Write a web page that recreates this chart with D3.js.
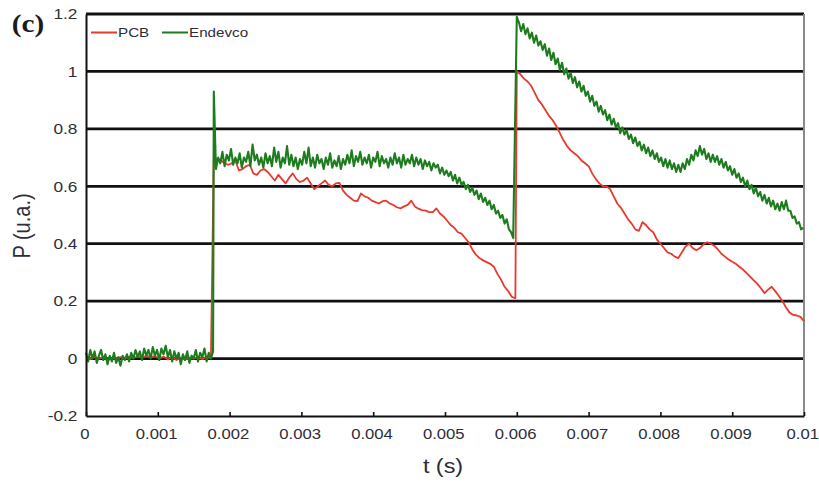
<!DOCTYPE html>
<html>
<head>
<meta charset="utf-8">
<script src="https://cdn.jsdelivr.net/npm/d3@7"></script>
<style>
  html, body { margin: 0; padding: 0; background: #fff; }
  svg { display: block; }
</style>
</head>
<body>
<svg id="chart" width="819" height="483"></svg>
<script>
// ---- axis ticks ----
const xTicks = [0, 0.001, 0.002, 0.003, 0.004, 0.005, 0.006, 0.007, 0.008, 0.009, 0.01];
const xTickLabels = ["0", "0.001", "0.002", "0.003", "0.004", "0.005", "0.006", "0.007", "0.008", "0.009", "0.01"];
const yTicks = [-0.2, 0, 0.2, 0.4, 0.6, 0.8, 1, 1.2];
const yTickLabels = ["-0.2", "0", "0.2", "0.4", "0.6", "0.8", "1", "1.2"];
const gridValues = [0, 0.2, 0.4, 0.6, 0.8, 1, 1.2];

const seriesNames = ["PCB", "Endevco"];
const seriesColors = ["#e8392f", "#1d7c1d"];

// ---- PCB sensor: three recorded segments (start time, sample step, values) ----
const pcbStart = [0, 0.00178, 0.006];
const pcbStep = [0.00006, 0.00005, 0.00005];
const pcbBefore = [0.005, -0.002, 0.006, 0.0, 0.004, -0.004, 0.003, -0.002, 0.005, 0.0,
  0.006, 0.002, 0.008, 0.003, 0.01, 0.004, 0.009, 0.0, 0.007, -0.003,
  0.004, -0.005, 0.002, -0.004, 0.003, 0.0, 0.005, -0.002, 0.004, 0.002];
const pcbFirst = [0.70, 0.695, 0.69, 0.68, 0.675, 0.68, 0.69, 0.655, 0.66, 0.67,
  0.675, 0.645, 0.64, 0.655, 0.66, 0.65, 0.635, 0.62, 0.64, 0.625,
  0.61, 0.63, 0.645, 0.625, 0.615, 0.62, 0.63, 0.61, 0.59, 0.60,
  0.61, 0.62, 0.605, 0.60, 0.61, 0.612, 0.585, 0.57, 0.56, 0.55,
  0.548, 0.575, 0.565, 0.56, 0.55, 0.545, 0.54, 0.548, 0.55, 0.54,
  0.535, 0.527, 0.523, 0.53, 0.535, 0.55, 0.53, 0.522, 0.517, 0.515,
  0.51, 0.51, 0.523, 0.505, 0.495, 0.48, 0.465, 0.455, 0.44, 0.435,
  0.42, 0.405, 0.38, 0.362, 0.35, 0.342, 0.336, 0.33, 0.32, 0.295,
  0.275, 0.25, 0.235, 0.215, 0.21];
const pcbSecond = [1.0, 0.99, 0.975, 0.965, 0.95, 0.925, 0.90, 0.885, 0.865, 0.845,
  0.83, 0.81, 0.785, 0.76, 0.74, 0.725, 0.715, 0.705, 0.69, 0.68,
  0.67, 0.645, 0.625, 0.61, 0.60, 0.60, 0.59, 0.565, 0.54, 0.525,
  0.505, 0.485, 0.47, 0.45, 0.445, 0.475, 0.465, 0.45, 0.44, 0.415,
  0.40, 0.385, 0.37, 0.365, 0.355, 0.35, 0.37, 0.39, 0.40, 0.385,
  0.377, 0.385, 0.398, 0.405, 0.40, 0.393, 0.38, 0.365, 0.355, 0.345,
  0.337, 0.33, 0.32, 0.31, 0.298, 0.285, 0.272, 0.26, 0.245, 0.228,
  0.24, 0.25, 0.235, 0.218, 0.20, 0.178, 0.16, 0.152, 0.15, 0.145,
  0.13];

// ---- Endevco sensor: three recorded segments ----
const endStart = [0, 0.00178, 0.006];
const endStep = [0.00003, 0.00003, 0.00003];
const endBefore = [0.02, -0.01, 0.03, 0.0, 0.025, -0.015, 0.01, 0.03, -0.005, 0.015,
  -0.02, 0.01, -0.01, 0.02, -0.015, 0.005, -0.025, 0.01, -0.005, 0.015,
  -0.01, 0.02, 0.0, 0.03, 0.005, 0.025, -0.005, 0.035, 0.01, 0.03,
  0.0, 0.04, 0.01, 0.03, -0.005, 0.035, 0.015, 0.045, 0.005, 0.03,
  -0.01, 0.025, 0.0, 0.02, -0.02, 0.015, -0.005, 0.025, -0.015, 0.01,
  0.0, 0.03, -0.01, 0.02, 0.005, 0.035, -0.01, 0.02, 0.0, 0.025];
const endFirst = [0.93,
  0.66, 0.70, 0.68, 0.72, 0.67, 0.71, 0.69, 0.73, 0.675, 0.70,
  0.68, 0.715, 0.665, 0.70, 0.685, 0.72, 0.67, 0.745, 0.69, 0.71,
  0.675, 0.70, 0.665, 0.715, 0.68, 0.705, 0.67, 0.735, 0.685, 0.72,
  0.665, 0.70, 0.68, 0.74, 0.675, 0.71, 0.67, 0.70, 0.66, 0.695,
  0.675, 0.72, 0.68, 0.735, 0.67, 0.70, 0.665, 0.71, 0.68, 0.695,
  0.66, 0.70, 0.675, 0.715, 0.665, 0.69, 0.67, 0.705, 0.66, 0.695,
  0.675, 0.71, 0.68, 0.725, 0.67, 0.705, 0.685, 0.72, 0.675, 0.70,
  0.68, 0.71, 0.665, 0.70, 0.685, 0.72, 0.67, 0.705, 0.68, 0.695,
  0.665, 0.70, 0.675, 0.715, 0.68, 0.70, 0.665, 0.71, 0.675, 0.695,
  0.68, 0.71, 0.67, 0.70, 0.675, 0.695, 0.66, 0.69, 0.67, 0.685,
  0.655, 0.68, 0.665, 0.675, 0.645, 0.665, 0.64, 0.655,
  0.635, 0.65, 0.62, 0.64, 0.61, 0.63, 0.605, 0.615, 0.59, 0.605,
  0.58, 0.595, 0.57, 0.585, 0.555, 0.575, 0.545, 0.56, 0.535, 0.55,
  0.52, 0.535, 0.505, 0.515, 0.49, 0.50, 0.47, 0.485, 0.45, 0.44, 0.42];
const endSecond = [1.19,
  1.17, 1.14, 1.165, 1.13, 1.15, 1.115, 1.135, 1.10, 1.125, 1.09,
  1.105, 1.075, 1.095, 1.055, 1.08, 1.04, 1.065, 1.025, 1.045, 1.005,
  1.03, 0.99, 1.01, 0.975, 0.995, 0.96, 0.98, 0.945, 0.965, 0.93,
  0.95, 0.915, 0.93, 0.895, 0.915, 0.88, 0.895, 0.86, 0.88, 0.85,
  0.865, 0.83, 0.85, 0.815, 0.835, 0.805, 0.82, 0.785, 0.805, 0.78,
  0.795, 0.765, 0.78, 0.75, 0.77, 0.74, 0.755, 0.725, 0.745, 0.715,
  0.735, 0.705, 0.725, 0.695, 0.715, 0.685, 0.70, 0.67, 0.695, 0.665,
  0.69, 0.66, 0.68, 0.65, 0.675, 0.65, 0.68, 0.66, 0.695, 0.675,
  0.71, 0.69, 0.725, 0.705, 0.74, 0.71, 0.73, 0.695, 0.715, 0.685,
  0.71, 0.685, 0.705, 0.675, 0.695, 0.665, 0.685, 0.655, 0.67, 0.64,
  0.66, 0.63, 0.645, 0.615, 0.63, 0.60, 0.62, 0.59, 0.605, 0.575,
  0.595, 0.565, 0.58, 0.55, 0.57, 0.54, 0.56, 0.53, 0.55, 0.52,
  0.54, 0.515, 0.545, 0.52, 0.55, 0.515, 0.515, 0.49, 0.495, 0.47, 0.475, 0.45, 0.455];

// ---- assemble sampled points ----
function toPoints(starts, steps, segments) {
  return segments.flatMap((vals, k) => vals.map((v, i) => ({ t: starts[k] + i * steps[k], v })));
}
const pcbData = toPoints(pcbStart, pcbStep, [pcbBefore, pcbFirst, pcbSecond]);
const endData = toPoints(endStart, endStep, [endBefore, endFirst, endSecond]);

// ---- layout ----
const plot = { left: 86, right: 804, top: 14, bottom: 416 };
const SX = 1.17;      // horizontal text stretch for titles and legend
const SXT = 1.15;     // horizontal text stretch for tick labels
const textColor = "#2e2e38";

const svg = d3.select("#chart");
const x = d3.scaleLinear().domain([0, 0.01]).range([plot.left, plot.right]);
const y = d3.scaleLinear().domain([-0.2, 1.2]).range([plot.bottom, plot.top]);

// horizontal grid lines
svg.append("g").selectAll("line")
  .data(gridValues)
  .join("line")
  .attr("x1", plot.left).attr("x2", plot.right)
  .attr("y1", d => y(d)).attr("y2", d => y(d))
  .attr("stroke", "#111").attr("stroke-width", 2.8);

// right frame edge
svg.append("line")
  .attr("x1", plot.right).attr("x2", plot.right)
  .attr("y1", plot.top).attr("y2", plot.bottom)
  .attr("stroke", "#8a8a8a").attr("stroke-width", 2);

// data traces
const line = d3.line().x(d => x(d.t)).y(d => y(d.v));
svg.append("path").datum(pcbData)
  .attr("d", line).attr("fill", "none")
  .attr("stroke", seriesColors[0]).attr("stroke-width", 1.8)
  .attr("stroke-linejoin", "round");
svg.append("path").datum(endData)
  .attr("d", line).attr("fill", "none")
  .attr("stroke", seriesColors[1]).attr("stroke-width", 2.1)
  .attr("stroke-linejoin", "round");

// x axis
const xAxis = d3.axisBottom(x)
  .tickValues(xTicks)
  .tickFormat((d, i) => xTickLabels[i])
  .tickSizeInner(-4).tickSizeOuter(0).tickPadding(13);
const gx = svg.append("g").attr("transform", `translate(0,${plot.bottom})`).call(xAxis);
gx.select(".domain").attr("stroke", "#111").attr("stroke-width", 2);
gx.selectAll(".tick line").attr("stroke", "#111").attr("stroke-width", 1.6);
gx.selectAll(".tick text")
  .attr("x", -1.5)
  .attr("font-family", "'Liberation Sans', Arial, sans-serif")
  .attr("font-size", 14.5).attr("fill", textColor)
  .attr("transform", `scale(${SXT},1)`);

// y axis
const yAxis = d3.axisLeft(y)
  .tickValues(yTicks)
  .tickFormat((d, i) => yTickLabels[i])
  .tickSize(0).tickPadding(7.5);
const gy = svg.append("g").attr("transform", `translate(${plot.left},0)`).call(yAxis);
gy.select(".domain").attr("stroke", "#111").attr("stroke-width", 2);
gy.selectAll(".tick text")
  .attr("font-family", "'Liberation Sans', Arial, sans-serif")
  .attr("font-size", 15).attr("fill", textColor)
  .attr("transform", `scale(${SXT},1)`);

// axis titles
svg.append("text")
  .attr("transform", `translate(443,473) scale(${SX},1)`)
  .attr("text-anchor", "middle")
  .attr("font-family", "'Liberation Sans', Arial, sans-serif")
  .attr("font-size", 20).attr("fill", textColor)
  .text("t (s)");
svg.append("text")
  .attr("transform", `translate(30,226) scale(${SX},1) rotate(-90)`)
  .attr("text-anchor", "middle")
  .attr("font-family", "'Liberation Sans', Arial, sans-serif")
  .attr("font-size", 20).attr("fill", textColor)
  .text("P (u.a.)");

// panel letter
svg.append("text")
  .attr("transform", `translate(28,32) scale(${SX},1)`)
  .attr("text-anchor", "middle")
  .attr("font-family", "'Liberation Serif', 'Times New Roman', serif")
  .attr("font-weight", "bold")
  .attr("font-size", 25).attr("fill", "#1a1a22")
  .text("(c)");

// legend
const legendItems = [
  { name: seriesNames[0], color: seriesColors[0], x0: 91 },
  { name: seriesNames[1], color: seriesColors[1], x0: 162 }
];
const lg = svg.append("g");
lg.selectAll("line")
  .data(legendItems)
  .join("line")
  .attr("x1", d => d.x0).attr("x2", d => d.x0 + 26)
  .attr("y1", 32.5).attr("y2", 32.5)
  .attr("stroke", d => d.color).attr("stroke-width", 2);
lg.selectAll("text")
  .data(legendItems)
  .join("text")
  .attr("transform", d => `translate(${d.x0 + 27},37) scale(${SX},1)`)
  .attr("font-family", "'Liberation Sans', Arial, sans-serif")
  .attr("font-size", 13).attr("fill", textColor)
  .text(d => d.name);
</script>
</body>
</html>
